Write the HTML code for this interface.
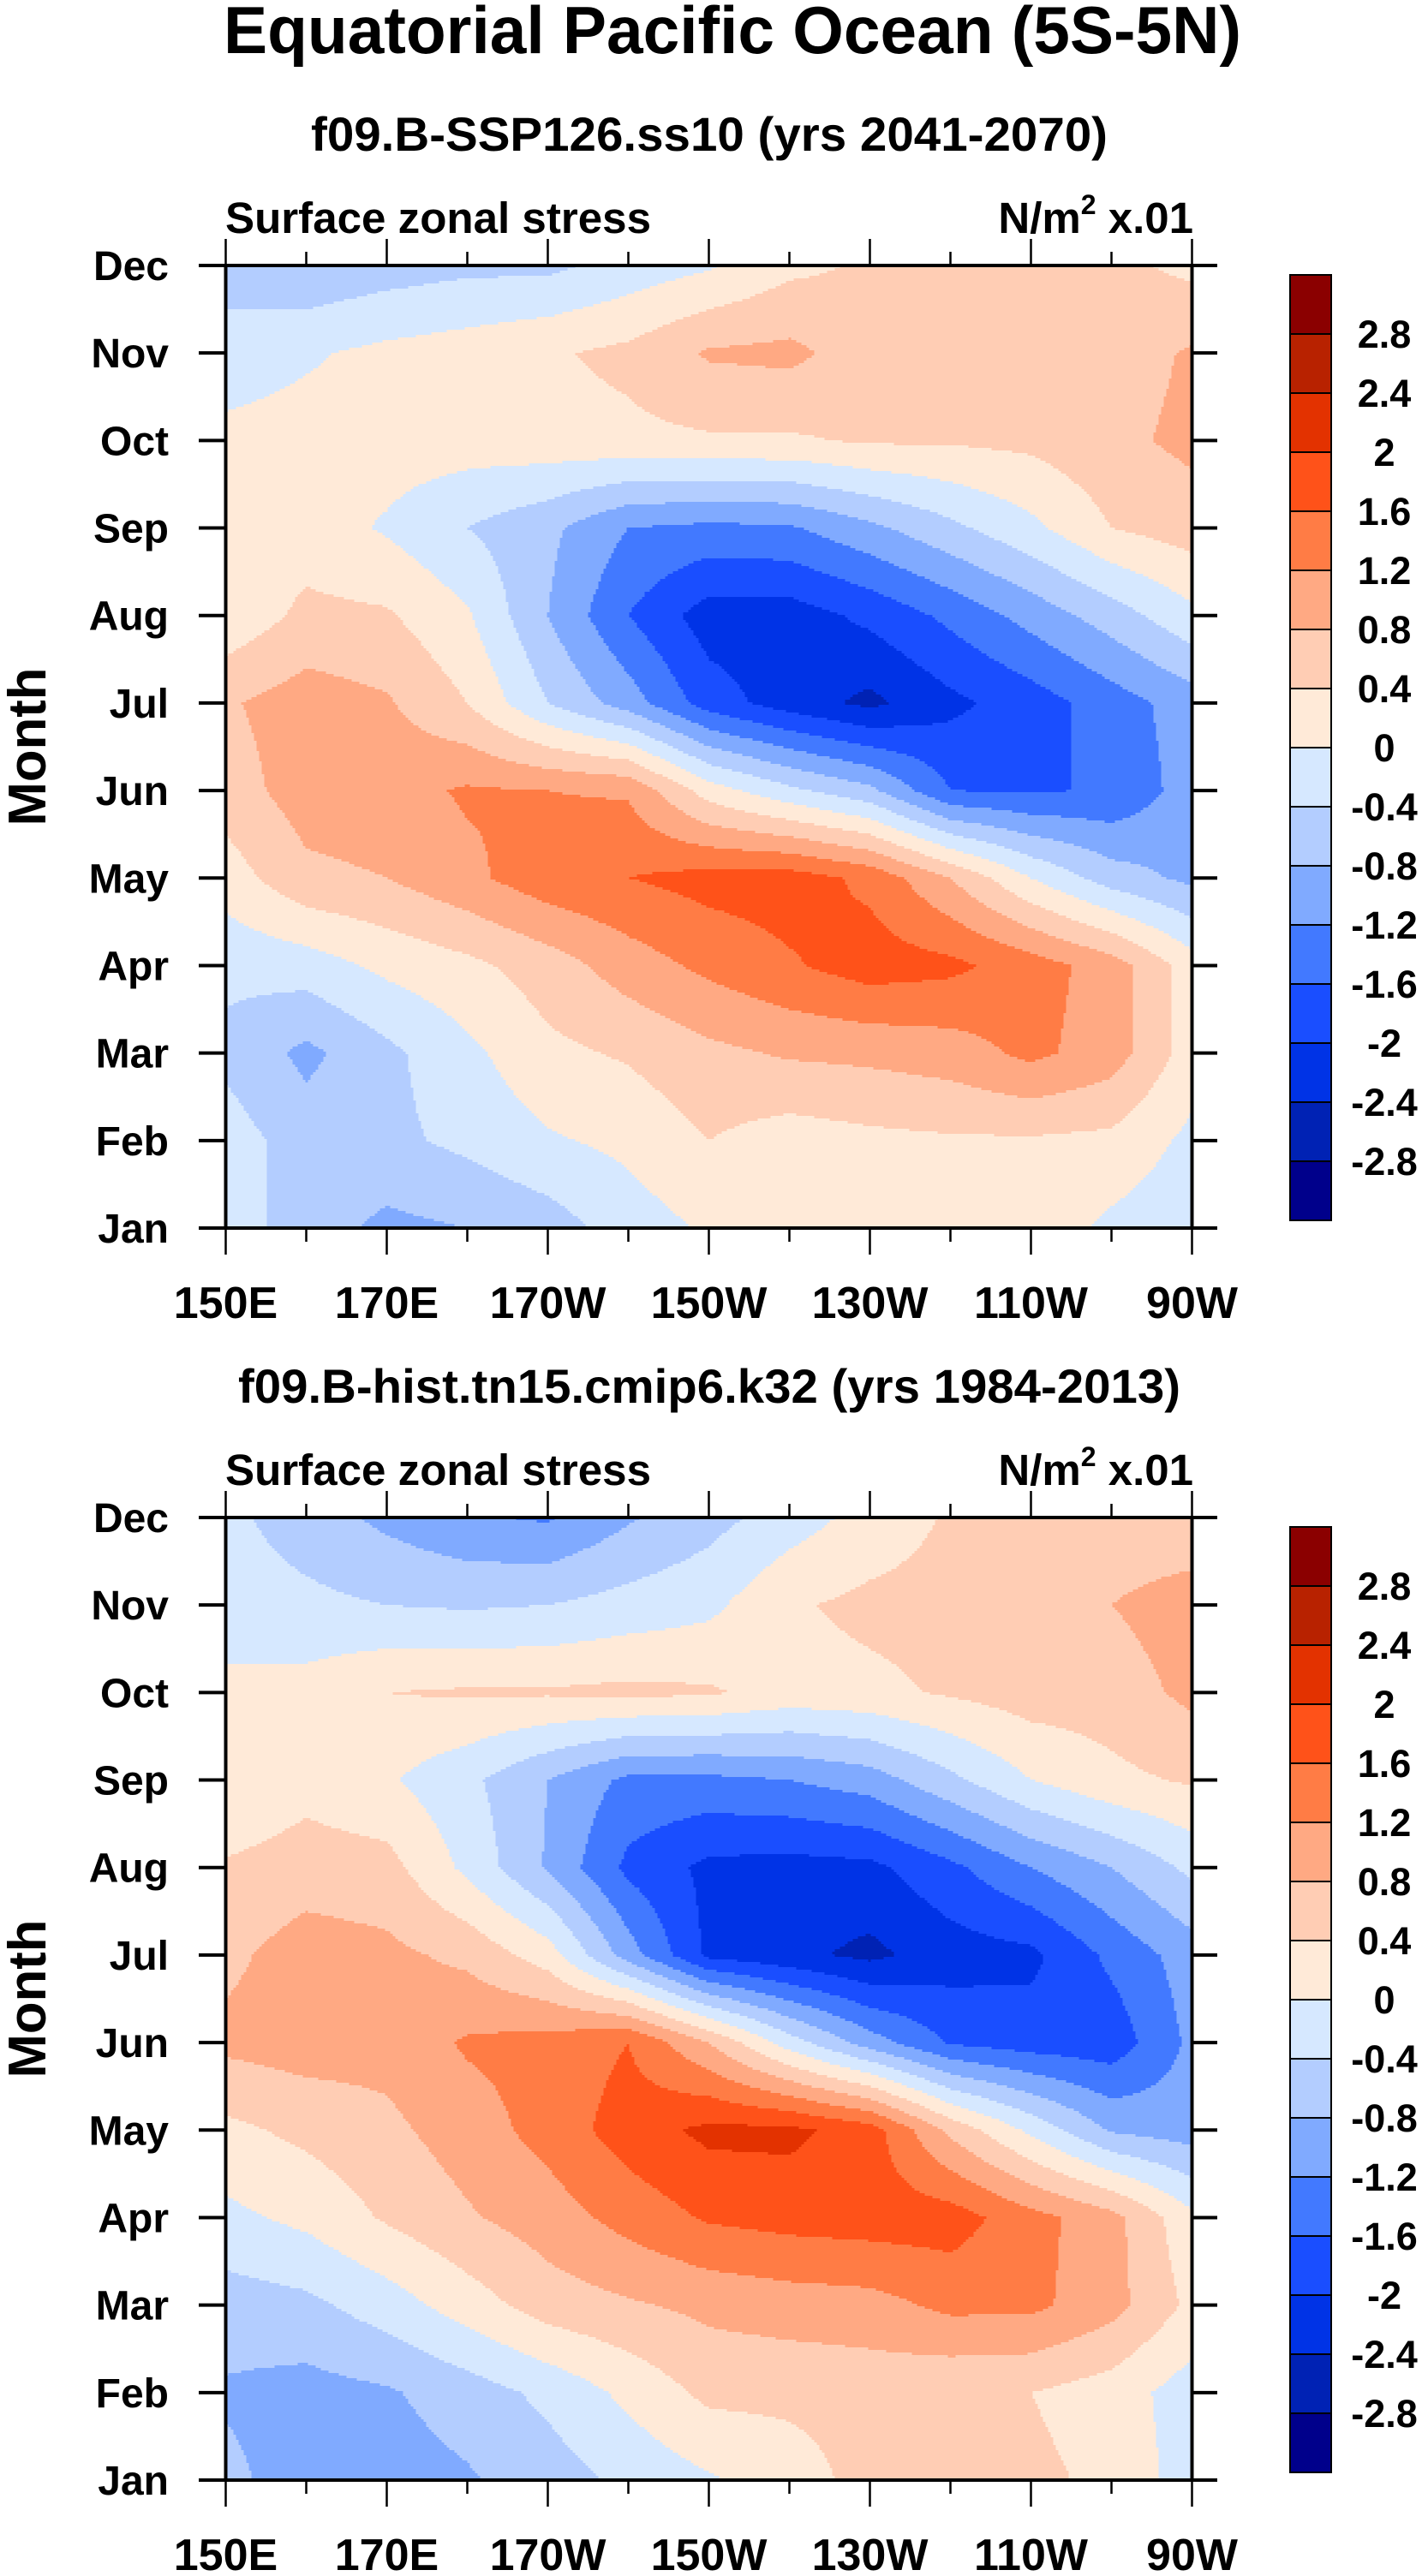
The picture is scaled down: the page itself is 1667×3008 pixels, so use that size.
<!DOCTYPE html>
<html><head><meta charset="utf-8">
<style>
html,body{margin:0;padding:0;background:#fff;}
svg{display:block;font-family:"Liberation Sans",Arial,sans-serif;font-weight:bold;}
</style></head>
<body>
<svg id="chart" width="1667" height="3008" viewBox="0 0 1667 3008" xmlns="http://www.w3.org/2000/svg">
<rect x="0" y="0" width="1667" height="3008" fill="#fff"/>
<text x="855" y="62" font-size="78" text-anchor="middle" textLength="1188" lengthAdjust="spacingAndGlyphs">Equatorial Pacific Ocean (5S-5N)</text>
</svg>
<script>
const months = ['Jan','Feb','Mar','Apr','May','Jun','Jul','Aug','Sep','Oct','Nov','Dec'];
const lonTickLabels = ['150E','170E','170W','150W','130W','110W','90W'];
const lonTickValues = [150,170,190,210,230,250,270];
const lonGrid = [150,160,170,180,190,200,210,220,230,240,250,260,270];
const levels = [-2.8,-2.4,-2,-1.6,-1.2,-0.8,-0.4,0,0.4,0.8,1.2,1.6,2,2.4,2.8];
const levelLabels = ['2.8','2.4','2','1.6','1.2','0.8','0.4','0','-0.4','-0.8','-1.2','-1.6','-2','-2.4','-2.8'];
const colors = ['#00008b','#0022b4','#0033e6','#1a4eff','#4279ff','#80aaff','#b3cdff','#d6e8ff','#ffead8','#ffcdb4','#ffa983','#ff7c45','#ff5219','#e33200','#b82200','#8b0000'];
// rows Jan..Dec, columns 150E..90W every 10 deg
const sspValues = [
 [-0.2,-0.6,-0.9,-0.8,-0.6,-0.2,0.05,0.2,0.2,0.3,0.25,-0.1,-0.3],
 [-0.2,-0.6,-0.5,-0.3,-0.05,0.1,0.4,0.2,0.3,0.35,0.35,0.3,-0.1],
 [-0.5,-0.9,-0.5,-0.1,0.3,0.45,0.7,0.85,0.9,1.0,1.3,1.0,0.2],
 [-0.3,-0.2,0.1,0.3,0.6,1.0,1.3,1.55,1.8,1.7,1.4,1.0,0.2],
 [0.2,0.7,0.8,1.1,1.45,1.6,1.75,1.8,1.5,0.8,0.0,-0.6,-0.9],
 [0.6,1.0,1.05,1.25,1.2,1.15,0.2,-0.3,-0.7,-1.6,-1.65,-1.55,-1.0],
 [0.75,1.0,0.85,0.4,-0.4,-1.0,-1.8,-2.2,-2.5,-2.1,-1.8,-1.4,-1.0],
 [0.1,0.5,0.45,0.05,-0.8,-1.6,-2.2,-2.2,-1.9,-1.5,-1.05,-0.6,-0.1],
 [0.15,0.2,-0.05,-0.4,-0.7,-1.2,-1.3,-1.25,-0.9,-0.5,-0.1,0.4,0.6],
 [0.1,0.15,0.2,0.2,0.25,0.3,0.35,0.35,0.45,0.45,0.5,0.7,0.9],
 [-0.2,-0.05,0.1,0.2,0.35,0.5,0.85,0.9,0.6,0.5,0.5,0.6,0.85],
 [-0.6,-0.75,-0.6,-0.5,-0.5,-0.25,-0.05,0.3,0.45,0.5,0.55,0.5,0.3]
];
const histValues = [
 [-0.7,-1.0,-1.0,-0.85,-0.6,-0.3,-0.05,0.2,0.55,0.55,0.5,0.3,-0.2],
 [-0.85,-0.95,-0.85,-0.6,-0.3,0.1,0.5,0.5,0.55,0.45,0.4,0.2,-0.2],
 [-0.6,-0.5,-0.2,0.2,0.6,0.75,0.9,1.0,1.05,1.3,1.3,0.95,0.3],
 [-0.1,0.1,0.45,0.75,1.0,1.35,1.65,1.75,1.8,1.8,1.35,0.95,0.1],
 [0.3,0.5,0.7,1.0,1.35,1.8,2.1,2.1,1.8,0.7,-0.1,-0.85,-1.0],
 [0.9,1.0,0.95,1.25,1.35,1.6,0.8,-0.2,-1.0,-1.65,-1.8,-1.85,-1.1],
 [0.7,1.0,0.9,0.7,0.2,-1.0,-2.1,-2.3,-2.5,-2.2,-2.1,-1.5,-1.0],
 [0.45,0.6,0.55,-0.1,-0.85,-1.7,-2.1,-2.15,-2.1,-1.7,-1.2,-0.8,-0.3],
 [0.0,0.25,0.05,-0.3,-0.8,-1.3,-1.3,-1.2,-1.0,-0.5,0.0,0.3,0.45],
 [0.1,0.15,0.4,0.45,0.45,0.5,0.45,0.25,0.3,0.45,0.6,0.6,0.9],
 [-0.2,-0.3,-0.4,-0.45,-0.4,-0.25,-0.1,0.35,0.5,0.55,0.6,0.8,1.0],
 [-0.3,-0.6,-0.9,-1.15,-1.25,-0.85,-0.55,-0.2,0.15,0.45,0.55,0.55,0.5]
];

const NS = 'http://www.w3.org/2000/svg';
const svg = document.getElementById('chart');
function mk(tag, attrs, parent){const e=document.createElementNS(NS,tag);for(const k in attrs)e.setAttribute(k,attrs[k]);(parent||svg).appendChild(e);return e;}
function colorFor(v){let i=0;while(i<levels.length&&v>=levels[i])i++;return colors[i];}

const X0=263.5, X1=1391.5;
function xScale(lon){return X0+(lon-150)/120*(X1-X0);}

function panel(top, subtitle, subW, values, nameKey){
  const Y0=top, Y1=top+1124;
  const yScale = m => Y1-(m/11)*(Y1-Y0);
  const g = mk('g',{});
  
  
  const st = mk('text',{x:828,y:top-134,'font-size':56,'text-anchor':'middle',textLength:subW,lengthAdjust:'spacingAndGlyphs'},g);
  st.textContent=subtitle;
  
  
  const lt = mk('text',{x:263,y:top-38,'font-size':51,textLength:497,lengthAdjust:'spacingAndGlyphs'},g);
  lt.textContent='Surface zonal stress';
  
  
  const rt = mk('text',{x:1393,y:top-38,'font-size':51,'text-anchor':'end'},g);
  rt.innerHTML='N/m<tspan font-size="32" dy="-22">2</tspan><tspan dy="22"> x.01</tspan>';
  
  
  const fg = mk('g',{'shape-rendering':'crispEdges'},g);
  
  
  const step=3;
  const W=X1-X0, H=Y1-Y0;
  function val(px,py){
    const lon=150+(px-X0)/W*120;
    const m=(Y1-py)/H*11;
    let fi=(lon-150)/10; let i=Math.min(Math.floor(fi),lonGrid.length-2); if(i<0)i=0; const fx=fi-i;
    let j=Math.min(Math.floor(m),10); if(j<0)j=0; const fy=m-j;
    const a=values[j][i],b=values[j][i+1],c=values[j+1][i],d=values[j+1][i+1];
    return (a*(1-fx)+b*fx)*(1-fy)+(c*(1-fx)+d*fx)*fy;
  }
  for(let py=Y0; py<Y1; py+=step){
    const h=Math.min(step,Y1-py);
    let runStart=X0, runCol=null;
    for(let px=X0; px<=X1; px+=step){
      const col = px<X1 ? colorFor(val(Math.min(px+step/2,X1),py+h/2)) : null;
      if(col!==runCol){
        if(runCol!==null){
          const r=mk('rect',{x:runStart,y:py,width:px-runStart+0.5,height:h+0.5,fill:runCol},fg);
          
          
        }
        runStart=px; runCol=col;
      }
    }
    if(runCol!==null){
      const r=mk('rect',{x:runStart,y:py,width:X1-runStart,height:h+0.5,fill:runCol},fg);
      
      
    }
  }
  const fr=mk('rect',{x:X0,y:Y0,width:X1-X0,height:Y1-Y0,fill:'none',stroke:'#000','stroke-width':4},g);
  
  
  months.forEach((mo,k)=>{
    const y=yScale(k);
    const t1=mk('line',{x1:232,y1:y,x2:X0,y2:y,stroke:'#000','stroke-width':4},g);
    
    
    const t2=mk('line',{x1:X1,y1:y,x2:1421,y2:y,stroke:'#000','stroke-width':4},g);
    
    
    const tl=mk('text',{x:197,y:y+17,'font-size':48,'text-anchor':'end'},g);
    tl.textContent=mo;
    
    
  });
  for(let lon=150; lon<=270; lon+=10){
    const x=xScale(lon), major=(lon-150)%20===0, len=major?31:16;
    const a=mk('line',{x1:x,y1:Y0,x2:x,y2:Y0-len,stroke:'#000','stroke-width':2.5},g);
    
    
    const b=mk('line',{x1:x,y1:Y1,x2:x,y2:Y1+len,stroke:'#000','stroke-width':2.5},g);
    
    
  }
  lonTickLabels.forEach((lab,k)=>{
    const t=mk('text',{x:xScale(lonTickValues[k]),y:Y1+105,'font-size':52,'text-anchor':'middle'},g);
    t.textContent=lab;
    
    
  });
  const yc=(Y0+Y1)/2;
  const yt=mk('text',{x:53,y:yc,'font-size':62,'text-anchor':'middle',transform:'rotate(-90 53 '+yc+')',textLength:185,lengthAdjust:'spacingAndGlyphs'},g);
  yt.textContent='Month';
  
  
  const cbTop=top+11, cbBot=top+1115, cbH=(cbBot-cbTop)/colors.length;
  const cb=mk('g',{},g);
  
  
  for(let k=0;k<colors.length;k++){
    const c=colors[colors.length-1-k];
    const r=mk('rect',{x:1506,y:cbTop+k*cbH,width:48,height:cbH,fill:c,stroke:'#000','stroke-width':2},cb);
    
    
  }
  levelLabels.forEach((lab,k)=>{
    const t=mk('text',{x:1616,y:cbTop+(k+1)*cbH+16,'font-size':45,'text-anchor':'middle'},cb);
    t.textContent=lab;
    
    
  });
}
panel(310,'f09.B-SSP126.ss10 (yrs 2041-2070)',930,sspValues,'ssp');
panel(1772,'f09.B-hist.tn15.cmip6.k32 (yrs 1984-2013)',1100,histValues,'hist');
</script>
</body></html>
